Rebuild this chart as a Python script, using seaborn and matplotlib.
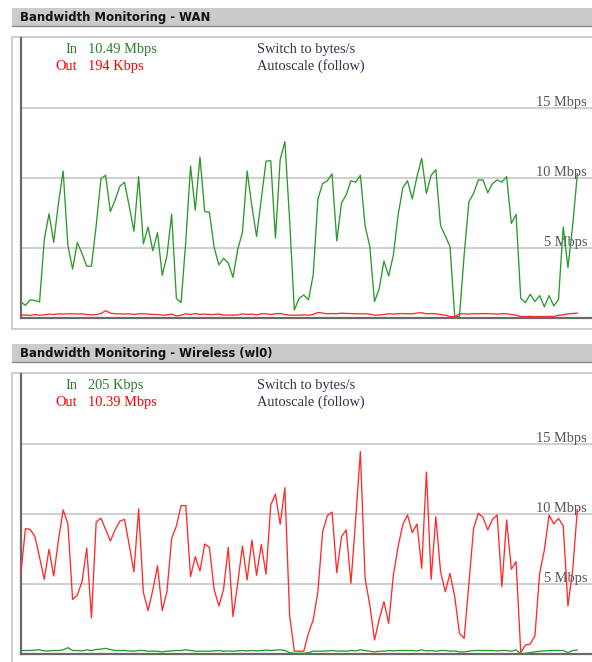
import matplotlib
matplotlib.use("Agg")
import matplotlib.pyplot as plt
import seaborn as sns
import numpy as np
import pandas as pd
from matplotlib.patches import Rectangle
from matplotlib.lines import Line2D

# ---------------- data ----------------
titles = ["Bandwidth Monitoring - WAN", "Bandwidth Monitoring - Wireless (wl0)"]
in_labels = ["10.49 Mbps", "205 Kbps"]
out_labels = ["194 Kbps", "10.39 Mbps"]
tick_values = [5, 10, 15]
tick_labels = ["5 Mbps", "10 Mbps", "15 Mbps"]

wan_in = [1.17, 0.9, 1.3, 1.25, 1.15, 5.6, 7.45, 5.4, 8.2, 10.5,
          5.2, 3.5, 5.4, 4.6, 3.7, 3.7, 6.6, 9.95, 10.2, 7.6,
          8.4, 9.4, 9.7, 8.0, 6.2, 10.1, 5.3, 6.5, 4.8, 6.1,
          3.05, 4.45, 7.4, 1.4, 1.1, 5.5, 10.86, 7.7, 11.5, 7.6,
          7.55, 5.05, 3.8, 4.26, 3.93, 2.9, 4.9, 6.1, 10.5, 8.0,
          5.83, 8.5, 11.2, 11.24, 5.7, 11.3, 12.6, 7.0, 0.57, 1.4,
          1.64, 1.3, 3.07, 8.5, 9.6, 9.8, 10.3, 5.5, 8.2, 8.8,
          9.8, 9.7, 10.2, 6.6, 5.1, 1.17, 2.1, 4.07, 3.0, 4.5,
          7.36, 9.3, 9.8, 8.5, 10.1, 11.4, 8.9, 10.2, 10.6, 6.6,
          5.86, 5.1, 0.1, 0.1, 4.5, 8.3, 8.9, 9.86, 9.86, 8.95,
          9.6, 9.86, 9.7, 10.1, 6.76, 7.4, 1.4, 1.1, 1.7, 1.17,
          1.6, 0.8, 1.6, 0.86, 1.33, 6.5, 3.6, 6.6, 10.3]

wan_out = [0.2, 0.22, 0.18, 0.25, 0.2, 0.22, 0.28, 0.25, 0.3, 0.28,
           0.3, 0.3, 0.28, 0.3, 0.25, 0.22, 0.25, 0.32, 0.52, 0.35,
           0.3, 0.3, 0.28, 0.3, 0.25, 0.3, 0.3, 0.28, 0.25, 0.25,
           0.2, 0.22, 0.28, 0.15, 0.2, 0.3, 0.25, 0.32, 0.25, 0.28,
           0.25, 0.25, 0.28, 0.2, 0.22, 0.2, 0.22, 0.3, 0.25, 0.28,
           0.22, 0.3, 0.3, 0.25, 0.3, 0.32, 0.25, 0.2, 0.2, 0.2,
           0.22, 0.2, 0.25, 0.4, 0.35, 0.3, 0.32, 0.3, 0.35, 0.32,
           0.32, 0.3, 0.3, 0.3, 0.28, 0.2, 0.22, 0.25, 0.3, 0.28,
           0.3, 0.32, 0.3, 0.3, 0.35, 0.38, 0.3, 0.32, 0.3, 0.25,
           0.2, 0.1, 0.1, 0.3, 0.3, 0.28, 0.3, 0.3, 0.32, 0.3,
           0.3, 0.28, 0.3, 0.3, 0.25, 0.2, 0.1, 0.1, 0.12, 0.1,
           0.1, 0.1, 0.12, 0.1, 0.2, 0.22, 0.3, 0.32, 0.35]

wl_in = [0.25, 0.25, 0.25, 0.28, 0.3, 0.22, 0.22, 0.25, 0.25, 0.3,
         0.45, 0.25, 0.25, 0.22, 0.3, 0.25, 0.32, 0.35, 0.4, 0.32,
         0.25, 0.25, 0.25, 0.22, 0.2, 0.25, 0.25, 0.2, 0.2, 0.2,
         0.15, 0.2, 0.22, 0.25, 0.25, 0.3, 0.25, 0.2, 0.2, 0.2,
         0.2, 0.22, 0.25, 0.2, 0.22, 0.2, 0.22, 0.25, 0.22, 0.25,
         0.22, 0.25, 0.28, 0.25, 0.28, 0.3, 0.25, 0.1, 0.05, 0.05,
         0.05, 0.1, 0.2, 0.2, 0.2, 0.22, 0.25, 0.2, 0.22, 0.2,
         0.25, 0.22, 0.3, 0.25, 0.2, 0.15, 0.2, 0.2, 0.25, 0.22,
         0.25, 0.25, 0.25, 0.25, 0.22, 0.3, 0.22, 0.25, 0.2, 0.25,
         0.25, 0.2, 0.22, 0.15, 0.15, 0.2, 0.25, 0.25, 0.25, 0.25,
         0.25, 0.22, 0.25, 0.25, 0.2, 0.3, 0.0, 0.05, 0.1, 0.15,
         0.2, 0.22, 0.25, 0.25, 0.25, 0.25, 0.1, 0.25, 0.28]

wl_out = [5.64, 8.95, 8.9, 8.4, 6.9, 5.33, 7.48, 5.57, 8.14, 10.3,
          9.3, 3.9, 4.2, 5.17, 7.57, 2.57, 9.43, 9.7, 8.9, 8.07,
          8.86, 9.48, 9.62, 7.8, 5.86, 10.36, 4.4, 3.1, 4.57, 6.3,
          3.1, 4.45, 8.26, 9.14, 10.6, 10.6, 5.52, 6.95, 5.93, 7.86,
          7.62, 4.62, 3.43, 4.62, 7.62, 2.67, 5.05, 7.71, 5.29, 8.14,
          5.62, 7.83, 5.69, 10.64, 11.43, 9.26, 11.88, 2.79, 0.2, 0.2,
          0.2, 1.48, 2.43, 4.45, 8.74, 9.88, 10.14, 5.8, 8.38, 8.86,
          5.05, 9.6, 14.45, 5.4, 3.5, 1.0, 2.48, 3.74, 2.19, 5.64,
          7.67, 9.26, 9.93, 8.67, 9.29, 6.12, 13.0, 5.33, 9.8, 5.88,
          4.45, 5.76, 4.1, 1.48, 1.12, 5.0, 8.98, 10.05, 9.76, 8.86,
          9.62, 9.93, 4.81, 9.57, 6.05, 6.6, 0.1, 0.64, 0.71, 1.29,
          5.76, 7.43, 9.93, 9.29, 9.69, 9.14, 3.43, 6.0, 10.33]

panels = [(wan_in, wan_out), (wl_in, wl_out)]

# ---------------- style ----------------
sns.set_style("white")
plt.rcParams["font.family"] = ["DejaVu Sans"]

W, H = 592, 662
fig = plt.figure(figsize=(W / 100, H / 100), dpi=100)
fig.patch.set_facecolor("white")

def fx(x):
    return x / W

def fy(y):
    return 1 - y / H

GREEN = "#2b9a2b"
GREEN_TXT = "#2a7d2a"
RED = "#ff2a2a"
SERIF = "Liberation Serif"
FS = 10.4

for p, (s_in, s_out) in enumerate(panels):
    dy = 336 * p
    # header bar
    fig.patches.append(Rectangle((fx(12), fy(26 + dy)), fx(592) - fx(12), fy(8 + dy) - fy(26 + dy),
                                 transform=fig.transFigure, fc="#cbcbcb", ec="none", zorder=0))
    fig.lines.append(Line2D([fx(12), fx(592)], [fy(26 + dy), fy(26 + dy)], transform=fig.transFigure,
                            color="#8a8a8a", lw=1.0, zorder=1))
    fig.text(fx(20), fy(21 + dy), titles[p], fontsize=8.4, fontweight="bold", color="#111111",
             va="baseline", ha="left")
    # frame
    fig.patches.append(Rectangle((fx(12), fy(329 + dy)), fx(640) - fx(12), fy(37 + dy) - fy(329 + dy),
                                 transform=fig.transFigure, fc="white", ec="#c8c8c8", lw=1.2, zorder=0))

    ax = fig.add_axes([fx(20.7), fy(318 + dy), fx(592) - fx(20.7), fy(38 + dy) - fy(318 + dy)])
    ax.set_zorder(5)
    ax.patch.set_alpha(0)
    n = len(s_in)
    df = pd.DataFrame({"t": np.arange(n), "in": s_in, "out": s_out})
    sns.lineplot(data=df, x="t", y="in", ax=ax, color=GREEN, lw=0.95, zorder=3)
    sns.lineplot(data=df, x="t", y="out", ax=ax, color=RED, lw=0.95, zorder=3)
    ax.set_xlim(0, 121.1)
    ax.set_ylim(0, 20)
    ax.set_yticks(tick_values)
    ax.set_xticks([])
    ax.yaxis.grid(True, color="#cccccc", lw=1.3)
    ax.set_axisbelow(True)
    ax.tick_params(left=False, labelleft=False, bottom=False, labelbottom=False)
    ax.set_xlabel("")
    ax.set_ylabel("")
    for side in ["top", "right"]:
        ax.spines[side].set_visible(False)
    for side in ["left", "bottom"]:
        ax.spines[side].set_color("#6a6a6a")
        ax.spines[side].set_linewidth(1.6)
    for v, lab in zip(tick_values, tick_labels):
        ax.text((587 - 20.7) / (592 - 20.7), v + 0.12, lab, transform=ax.get_yaxis_transform(),
                ha="right", va="baseline", family=SERIF, fontsize=FS, color="#555555", zorder=2)

    # info text
    fig.text(fx(77), fy(53 + dy), "In", family=SERIF, fontsize=FS, color=GREEN_TXT, ha="right", va="baseline")
    fig.text(fx(88), fy(53 + dy), in_labels[p], family=SERIF, fontsize=FS, color=GREEN_TXT, ha="left", va="baseline")
    fig.text(fx(77), fy(70 + dy), "Out", family=SERIF, fontsize=FS, color="#ff0000", ha="right", va="baseline")
    fig.text(fx(88), fy(70 + dy), out_labels[p], family=SERIF, fontsize=FS, color="#ff0000", ha="left", va="baseline")
    fig.text(fx(257), fy(53 + dy), "Switch to bytes/s", family=SERIF, fontsize=FS, color="#33334a",
             ha="left", va="baseline")
    fig.text(fx(257), fy(70 + dy), "Autoscale (follow)", family=SERIF, fontsize=FS, color="#33334a",
             ha="left", va="baseline")

fig.savefig("out.png", dpi=100, facecolor="white")
